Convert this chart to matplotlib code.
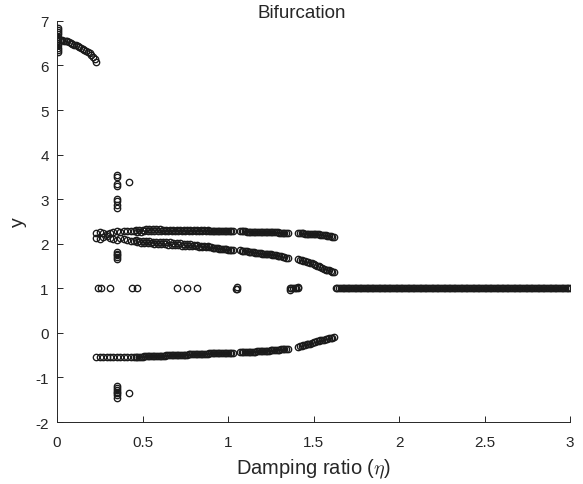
import matplotlib
matplotlib.use("Agg")
import matplotlib.pyplot as plt

# ── data (damping ratio eta vs. y) ──────────────────────────────────────
# left-most region: near-vertical bar at eta ~ 0 and the decaying arc
eta_bar = [0.006, 0.006, 0.006, 0.006, 0.006, 0.006, 0.006, 0.006, 0.006, 0.006, 0.006, 0.006]
y_bar = [6.30, 6.35, 6.40, 6.45, 6.50, 6.55, 6.60, 6.65, 6.70, 6.75, 6.80, 6.84]
eta_arc = [0.02, 0.03, 0.04, 0.05, 0.06, 0.07, 0.08, 0.09, 0.10, 0.11, 0.12,
           0.13, 0.14, 0.15, 0.16, 0.17, 0.18, 0.19, 0.20, 0.21, 0.22, 0.23]
y_arc = [6.58, 6.57, 6.56, 6.55, 6.54, 6.52, 6.51, 6.49, 6.47, 6.46, 6.44,
         6.42, 6.40, 6.38, 6.35, 6.33, 6.30, 6.27, 6.23, 6.19, 6.14, 6.08]

# three periodic branches, segment 1 (0.23 .. 1.03)
eta_s1 = [0.23, 0.25, 0.27, 0.29, 0.31, 0.33, 0.35, 0.37, 0.39, 0.41, 0.43, 0.45,
          0.46, 0.47, 0.48, 0.49, 0.50, 0.51, 0.52, 0.53, 0.54, 0.55,
          0.56, 0.57, 0.58, 0.59, 0.60, 0.61, 0.62, 0.63, 0.64, 0.65,
          0.66, 0.67, 0.68, 0.69, 0.70, 0.71, 0.72, 0.73, 0.74, 0.75,
          0.76, 0.77, 0.78, 0.79, 0.80, 0.81, 0.82, 0.83, 0.84, 0.85,
          0.86, 0.87, 0.88, 0.89, 0.90, 0.91, 0.92, 0.93, 0.94, 0.95,
          0.96, 0.97, 0.98, 0.99, 1.00, 1.01, 1.02, 1.03]
yA_s1 = [2.25, 2.26, 2.24, 2.22, 2.25, 2.27, 2.28, 2.27, 2.28, 2.29, 2.28, 2.29,
         2.31, 2.27, 2.31, 2.27, 2.31, 2.28, 2.32, 2.28, 2.32, 2.28,
         2.32, 2.28, 2.32, 2.28, 2.32, 2.28, 2.31, 2.28, 2.31, 2.28,
         2.31, 2.28, 2.31, 2.28, 2.31, 2.28, 2.31, 2.28, 2.31, 2.28,
         2.31, 2.28, 2.31, 2.28, 2.30, 2.28, 2.30, 2.28, 2.30, 2.28,
         2.30, 2.28, 2.30, 2.28, 2.29, 2.28, 2.29, 2.28, 2.29, 2.28,
         2.29, 2.28, 2.28, 2.28, 2.28, 2.28, 2.28, 2.28]
yB_s1 = [2.12, 2.10, 2.15, 2.18, 2.12, 2.10, 2.08, 2.12, 2.10, 2.08, 2.07, 2.06,
         2.08, 2.03, 2.07, 2.02, 2.07, 2.02, 2.06, 2.01, 2.06, 2.01,
         2.05, 2.00, 2.05, 2.00, 2.04, 1.99, 2.04, 1.99, 2.03, 1.98,
         2.03, 1.98, 2.02, 1.97, 2.02, 1.97, 2.01, 1.96, 2.00, 1.96,
         1.99, 1.95, 1.99, 1.94, 1.98, 1.94, 1.97, 1.93, 1.96, 1.93,
         1.95, 1.92, 1.94, 1.92, 1.93, 1.91, 1.91, 1.90, 1.90, 1.89,
         1.89, 1.88, 1.88, 1.88, 1.87, 1.87, 1.86, 1.86]
yC_s1 = [-0.55, -0.55, -0.55, -0.55, -0.55, -0.55, -0.54, -0.54, -0.54, -0.54, -0.54, -0.53,
         -0.53, -0.53, -0.53, -0.53, -0.53, -0.52, -0.52, -0.52, -0.52, -0.52,
         -0.52, -0.52, -0.51, -0.51, -0.51, -0.51, -0.51, -0.51, -0.50, -0.50,
         -0.50, -0.50, -0.50, -0.50, -0.50, -0.49, -0.49, -0.49, -0.49, -0.49,
         -0.49, -0.48, -0.48, -0.48, -0.48, -0.48, -0.48, -0.47, -0.47, -0.47,
         -0.47, -0.47, -0.47, -0.46, -0.46, -0.46, -0.46, -0.46, -0.46, -0.45,
         -0.45, -0.45, -0.45, -0.45, -0.45, -0.45, -0.45, -0.45]

# segment 2 (1.07 .. 1.35)
eta_s2 = [1.07, 1.08, 1.09, 1.10, 1.11, 1.12, 1.13, 1.14, 1.15, 1.16,
          1.17, 1.18, 1.19, 1.20, 1.21, 1.22, 1.23, 1.24, 1.25, 1.26,
          1.27, 1.28, 1.29, 1.30, 1.31, 1.32, 1.33, 1.34, 1.35]
yA_s2 = [2.28, 2.28, 2.28, 2.28, 2.27, 2.27, 2.27, 2.27, 2.27, 2.27,
         2.27, 2.27, 2.27, 2.26, 2.26, 2.26, 2.26, 2.26, 2.26, 2.26,
         2.26, 2.26, 2.26, 2.25, 2.25, 2.25, 2.25, 2.25, 2.25]
yB_s2 = [1.85, 1.84, 1.84, 1.83, 1.83, 1.82, 1.82, 1.81, 1.81, 1.80,
         1.80, 1.79, 1.79, 1.78, 1.78, 1.77, 1.77, 1.76, 1.76, 1.75,
         1.75, 1.74, 1.73, 1.72, 1.72, 1.71, 1.70, 1.69, 1.68]
yC_s2 = [-0.44, -0.44, -0.43, -0.43, -0.43, -0.43, -0.42, -0.42, -0.42, -0.42,
         -0.41, -0.41, -0.41, -0.41, -0.40, -0.40, -0.40, -0.40, -0.39, -0.39,
         -0.39, -0.38, -0.38, -0.38, -0.37, -0.37, -0.37, -0.36, -0.36]

# segment 3 (1.41 .. 1.62)
eta_s3 = [1.41, 1.42, 1.43, 1.44, 1.45, 1.46, 1.47, 1.48, 1.49, 1.50, 1.51,
          1.52, 1.53, 1.54, 1.55, 1.56, 1.57, 1.58, 1.59, 1.60, 1.61, 1.62]
yA_s3 = [2.24, 2.24, 2.24, 2.24, 2.23, 2.23, 2.23, 2.23, 2.22, 2.22, 2.22,
         2.21, 2.21, 2.20, 2.20, 2.19, 2.19, 2.18, 2.17, 2.17, 2.16, 2.15]
yB_s3 = [1.65, 1.64, 1.63, 1.62, 1.61, 1.60, 1.59, 1.57, 1.56, 1.54, 1.53,
         1.51, 1.49, 1.47, 1.45, 1.44, 1.42, 1.41, 1.40, 1.39, 1.37, 1.36]
yC_s3 = [-0.31, -0.30, -0.29, -0.28, -0.27, -0.26, -0.25, -0.24, -0.23, -0.21, -0.20,
         -0.19, -0.18, -0.17, -0.16, -0.15, -0.14, -0.13, -0.12, -0.12, -0.11, -0.10]

# fixed point y = 1 beyond eta ~ 1.63
eta_flat = [1.63, 1.64, 1.65, 1.66, 1.67, 1.68, 1.69, 1.70, 1.71, 1.72,
            1.73, 1.74, 1.75, 1.76, 1.77, 1.78, 1.79, 1.80, 1.81, 1.82,
            1.83, 1.84, 1.85, 1.86, 1.87, 1.88, 1.89, 1.90, 1.91, 1.92,
            1.93, 1.94, 1.95, 1.96, 1.97, 1.98, 1.99, 2.00, 2.01, 2.02,
            2.03, 2.04, 2.05, 2.06, 2.07, 2.08, 2.09, 2.10, 2.11, 2.12,
            2.13, 2.14, 2.15, 2.16, 2.17, 2.18, 2.19, 2.20, 2.21, 2.22,
            2.23, 2.24, 2.25, 2.26, 2.27, 2.28, 2.29, 2.30, 2.31, 2.32,
            2.33, 2.34, 2.35, 2.36, 2.37, 2.38, 2.39, 2.40, 2.41, 2.42,
            2.43, 2.44, 2.45, 2.46, 2.47, 2.48, 2.49, 2.50, 2.51, 2.52,
            2.53, 2.54, 2.55, 2.56, 2.57, 2.58, 2.59, 2.60, 2.61, 2.62,
            2.63, 2.64, 2.65, 2.66, 2.67, 2.68, 2.69, 2.70, 2.71, 2.72,
            2.73, 2.74, 2.75, 2.76, 2.77, 2.78, 2.79, 2.80, 2.81, 2.82,
            2.83, 2.84, 2.85, 2.86, 2.87, 2.88, 2.89, 2.90, 2.91, 2.92,
            2.93, 2.94, 2.95, 2.96, 2.97, 2.98, 2.99, 3.00]
y_flat = [1.00, 1.00, 1.00, 1.00, 1.00, 1.00, 1.00, 1.00, 1.00, 1.00,
          1.00, 1.00, 1.00, 1.00, 1.00, 1.00, 1.00, 1.00, 1.00, 1.00,
          1.00, 1.00, 1.00, 1.00, 1.00, 1.00, 1.00, 1.00, 1.00, 1.00,
          1.00, 1.00, 1.00, 1.00, 1.00, 1.00, 1.00, 1.00, 1.00, 1.00,
          1.00, 1.00, 1.00, 1.00, 1.00, 1.00, 1.00, 1.00, 1.00, 1.00,
          1.00, 1.00, 1.00, 1.00, 1.00, 1.00, 1.00, 1.00, 1.00, 1.00,
          1.00, 1.00, 1.00, 1.00, 1.00, 1.00, 1.00, 1.00, 1.00, 1.00,
          1.00, 1.00, 1.00, 1.00, 1.00, 1.00, 1.00, 1.00, 1.00, 1.00,
          1.00, 1.00, 1.00, 1.00, 1.00, 1.00, 1.00, 1.00, 1.00, 1.00,
          1.00, 1.00, 1.00, 1.00, 1.00, 1.00, 1.00, 1.00, 1.00, 1.00,
          1.00, 1.00, 1.00, 1.00, 1.00, 1.00, 1.00, 1.00, 1.00, 1.00,
          1.00, 1.00, 1.00, 1.00, 1.00, 1.00, 1.00, 1.00, 1.00, 1.00,
          1.00, 1.00, 1.00, 1.00, 1.00, 1.00, 1.00, 1.00, 1.00, 1.00,
          1.00, 1.00, 1.00, 1.00, 1.00, 1.00, 1.00, 1.00]

# scattered y = 1 hits inside the periodic window
eta_one = [0.24, 0.26, 0.31, 0.44, 0.47, 0.70, 0.76, 0.82, 1.045, 1.055, 1.05,
           1.36, 1.37, 1.38, 1.39, 1.40, 1.41, 1.36, 1.41]
y_one = [1.00, 1.00, 1.00, 1.00, 1.00, 1.00, 1.00, 1.00, 0.98, 0.98, 1.03,
         1.00, 1.00, 1.00, 1.00, 1.00, 1.00, 0.97, 1.03]

# isolated column near eta ~ 0.35 and stray points
eta_col = [0.348, 0.348, 0.348, 0.348, 0.350, 0.350, 0.350, 0.350,
           0.350, 0.350, 0.350, 0.350, 0.350, 0.42,
           0.350, 0.350, 0.350, 0.350, 0.350, 0.350, 0.350, 0.42]
y_col = [3.55, 3.50, 3.35, 3.30, 3.00, 2.95, 2.88, 2.80,
         1.82, 1.78, 1.74, 1.70, 1.66, 3.39,
         -1.20, -1.24, -1.28, -1.32, -1.36, -1.40, -1.47, -1.35]

TXT = "#262626"
AX = "#262626"

plt.rcParams["font.family"] = ["Liberation Sans", "DejaVu Sans"]
plt.rcParams["mathtext.fontset"] = "cm"
plt.rcParams["axes.unicode_minus"] = False

fig = plt.figure(figsize=(5.83, 4.85), dpi=100)
ax = fig.add_axes([0.0978, 0.1278, 0.88, 0.827])

mk = dict(ls="none", marker="o", mfc="none", mec="#1a1a1a", ms=4.6, mew=0.95)
ax.plot(eta_bar, y_bar, **mk)
ax.plot(eta_arc, y_arc, **mk)
for e, ya, yb, yc in [(eta_s1, yA_s1, yB_s1, yC_s1),
                      (eta_s2, yA_s2, yB_s2, yC_s2),
                      (eta_s3, yA_s3, yB_s3, yC_s3)]:
    ax.plot(e, ya, **mk)
    ax.plot(e, yb, **mk)
    ax.plot(e, yc, **mk)
ax.plot(eta_flat, y_flat, **mk)
ax.plot(eta_one, y_one, **mk)
ax.plot(eta_col, y_col, **mk)

ax.set_xlim(0, 3)
ax.set_ylim(-2, 7)
ax.set_xticks([0, 0.5, 1, 1.5, 2, 2.5, 3])
ax.set_xticklabels(["0", "0.5", "1", "1.5", "2", "2.5", "3"])
ax.set_yticks(range(-2, 8))

for s in ("top", "right"):
    ax.spines[s].set_visible(False)
for s in ("left", "bottom"):
    ax.spines[s].set_color(AX)
    ax.spines[s].set_linewidth(0.7)
ax.tick_params(direction="in", length=4, width=0.7, colors=AX,
               labelcolor=TXT, labelsize=11)
ax.tick_params(axis="x", pad=9)
ax.tick_params(axis="y", pad=6)

ax.set_title("Bifurcation", fontsize=13.5, color=TXT, x=0.477, pad=1)
ax.set_xlabel(r"Damping ratio ($\eta$)", fontsize=14.5, color=TXT, labelpad=6)
ax.set_ylabel("y", fontsize=14, color=TXT, labelpad=6)

fig.savefig("out.png", dpi=100)
